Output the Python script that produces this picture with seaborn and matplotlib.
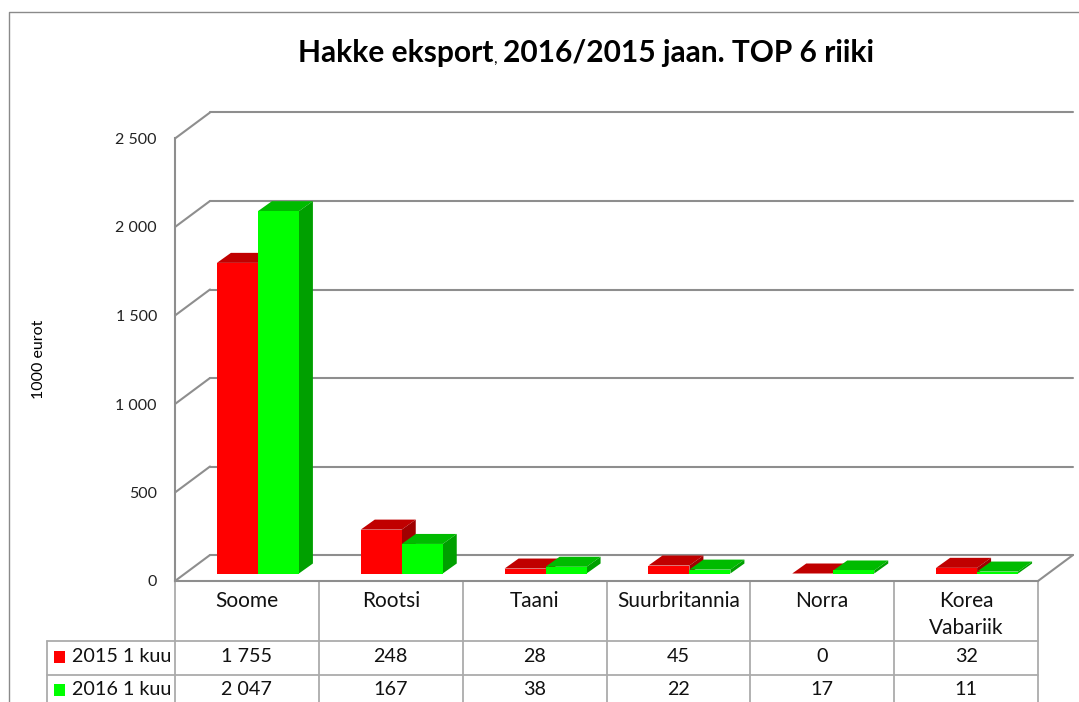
import matplotlib
matplotlib.use("Agg")
import matplotlib.pyplot as plt
from matplotlib.patches import Polygon, Rectangle
from matplotlib.transforms import Affine2D
import pandas as pd
import seaborn as sns

countries = ["Soome", "Rootsi", "Taani", "Suurbritannia", "Norra", "Korea\nVabariik"]
values_2015 = [1755, 248, 28, 45, 0, 32]
values_2016 = [2047, 167, 38, 22, 17, 11]
series_names = ["2015 1 kuu", "2016 1 kuu"]
table_2015 = ["1 755", "248", "28", "45", "0", "32"]
table_2016 = ["2 047", "167", "38", "22", "17", "11"]
y_ticks = [0, 500, 1000, 1500, 2000, 2500]
y_tick_labels = ["0", "500", "1 000", "1 500", "2 000", "2 500"]

W, H = 1079, 702
FRONT = {"2015 1 kuu": "#FF0000", "2016 1 kuu": "#00FF00"}
TOP = {"2015 1 kuu": "#C00000", "2016 1 kuu": "#00BB00"}
SIDE = {"2015 1 kuu": "#A00000", "2016 1 kuu": "#00A000"}
GRID = "#8E8E8E"
TABLE = "#ABABAB"

sns.set_theme(style="white")
plt.rcParams["font.family"] = ["Lato", "DejaVu Sans"]

fig = plt.figure(figsize=(W / 100, H / 100), dpi=100, facecolor="white")

# overlay in pixel coordinates for the frame and the data table
bg = fig.add_axes([0, 0, 1, 1], zorder=0)
bg.set_xlim(0, W)
bg.set_ylim(H, 0)
bg.axis("off")

left, right, y0, y1 = 175, 1038, 581, 138.5
ax = fig.add_axes([left / W, 1 - y0 / H, (right - left) / W, (y0 - y1) / H], zorder=1)
ax.patch.set_alpha(0)

df = pd.DataFrame({
    "country": countries * 2,
    "value": values_2015 + values_2016,
    "series": [series_names[0]] * 6 + [series_names[1]] * 6,
})
sns.barplot(data=df, x="country", y="value", hue="series", palette=FRONT,
            width=0.57, gap=0, legend=False, ax=ax, saturation=1, linewidth=0)
ax.set_xlim(-0.5, 5.5)
ax.set_ylim(0, 2500)
ax.set_xlabel("")
ax.set_ylabel("")
ax.set_yticks(y_ticks, y_tick_labels)
ax.tick_params(axis="y", length=0, pad=13, labelsize=11.5, labelcolor="#222222")
ax.tick_params(axis="x", length=0, pad=7, labelsize=15, labelcolor="#111111")
for lab in ax.get_xticklabels():
    lab.set_verticalalignment("top")
    lab.set_linespacing(1.45)
for s in ["top", "right"]:
    ax.spines[s].set_visible(False)
for s in ["left", "bottom"]:
    ax.spines[s].set_color(GRID)
    ax.spines[s].set_linewidth(1.5)

# depth of the floor and walls, in display pixels
wall = ax.transData + Affine2D().translate(35, 26)
for t in y_ticks:
    ax.plot([-0.5, 5.5], [t, t], color=GRID, lw=1.5, transform=wall, clip_on=False, zorder=1)
    p0 = ax.transData.transform((-0.5, t))
    bg.plot([p0[0], p0[0] + 35], [H - p0[1], H - p0[1] - 26], color=GRID, lw=1.5, clip_on=False)
p1 = ax.transData.transform((5.5, 0))
bg.plot([p1[0], p1[0] + 35], [H - p1[1], H - p1[1] - 26], color=GRID, lw=1.5, clip_on=False)

# extruded bars: the seaborn bars are the front faces
shift = Affine2D().translate(11, 7.5)
dx, dy = 14, 10
series_of = [series_names[0]] * 6 + [series_names[1]] * 6
for n, (bar, name) in enumerate(zip(ax.patches, series_of)):
    z = 3 + 3 * (n >= 6) + 0.1 * (n % 6)
    bar.set_transform(ax.transData + shift)
    bar.set_zorder(z + 0.2)
    bar.set_clip_on(False)
    (xa, ya), (xb, yb) = (ax.transData + shift).transform(
        [(bar.get_x(), 0), (bar.get_x() + bar.get_width(), bar.get_height())])
    ax.add_patch(Polygon([(xa, yb), (xb, yb), (xb + dx, yb + dy), (xa + dx, yb + dy)],
                         closed=True, transform=None, fc=TOP[name], ec="none",
                         zorder=z, clip_on=False))
    ax.add_patch(Polygon([(xb, ya), (xb, yb), (xb + dx, yb + dy), (xb + dx, ya + dy)],
                         closed=True, transform=None, fc=SIDE[name], ec="none",
                         zorder=z, clip_on=False))

# chart frame
bg.plot([8.5, 8.5, W], [H, 11.5, 11.5], color="#8A8A8A", lw=1.0, clip_on=False)

# data table
xs = [left + (right - left) * i / 6 for i in range(7)]
for x in xs:
    bg.plot([x, x], [y0, H], color=TABLE, lw=1.3)
for yy in [640.5, 674.5]:
    bg.plot([46.5, right], [yy, yy], color=TABLE, lw=1.3)
bg.plot([46.5, 46.5], [640.5, H], color=TABLE, lw=1.3)
for row_y, name, row in [(656.5, series_names[0], table_2015),
                         (689.5, series_names[1], table_2016)]:
    bg.add_patch(Rectangle((54, row_y - 6), 11, 12, fc=FRONT[name], ec="none"))
    bg.text(72, row_y, name, fontsize=14.2, va="center", ha="left", color="#111111")
    for i, val in enumerate(row):
        bg.text((xs[i] + xs[i + 1]) / 2, row_y, val, fontsize=14.2, va="center",
                ha="center", color="#111111")

# titles
bg.text(298, 53, "Hakke eksport", fontsize=21.5, fontweight="bold", va="center", ha="left", color="black")
bg.text(493, 59, ",", fontsize=11, va="center", ha="left", color="black")
bg.text(874, 53, "2016/2015 jaan. TOP 6 riiki", fontsize=21.5, fontweight="bold",
        va="center", ha="right", color="black")
bg.text(39, 359, "1000 eurot", fontsize=11.5, rotation=90, va="center", ha="center", color="black")

fig.savefig("out.png", dpi=100)
